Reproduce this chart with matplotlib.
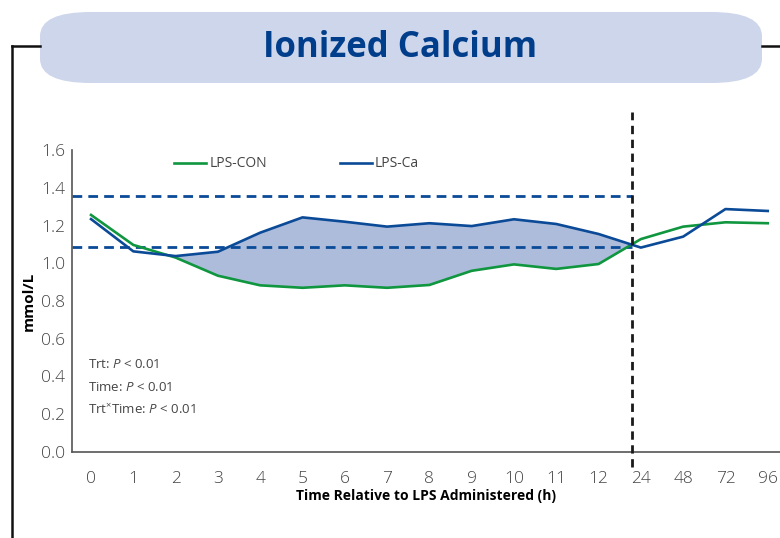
import matplotlib
matplotlib.use("Agg")
import matplotlib.pyplot as plt
from matplotlib.patches import FancyBboxPatch
from matplotlib.lines import Line2D
import numpy as np

# Data
time_labels = ['0', '1', '2', '3', '4', '5', '6', '7', '8', '9', '10', '11', '12', '24', '48', '72', '96']
lps_con = [1.256, 1.097, 1.030, 0.934, 0.883, 0.870, 0.883, 0.870, 0.885, 0.960, 0.994, 0.970, 0.996, 1.128, 1.194, 1.217, 1.212]
lps_ca = [1.234, 1.063, 1.038, 1.061, 1.162, 1.243, 1.220, 1.194, 1.212, 1.197, 1.233, 1.208, 1.155, 1.083, 1.141, 1.287, 1.277]
ref_high = 1.358
ref_low = 1.088
y_ticks = [0.0, 0.2, 0.4, 0.6, 0.8, 1.0, 1.2, 1.4, 1.6]

green = '#0f963f'
blue = '#0b4a97'
fill_col = '#aebcdc'
gray = '#444444'

plt.rcParams['font.family'] = ['Open Sans', 'DejaVu Sans']
plt.rcParams['mathtext.fontset'] = 'custom'
plt.rcParams['mathtext.rm'] = 'Open Sans'
plt.rcParams['mathtext.it'] = 'Open Sans:italic'

fig = plt.figure(figsize=(7.8, 5.38), dpi=100)
ax = fig.add_axes([72/780, 86/538, 1 - 72/780, (452 - 150)/538])

x = np.arange(len(time_labels))
con = np.array(lps_con)
ca = np.array(lps_ca)

# crossing point after 12 h (used for the dashed divider)
i = 12
cross = i + (ca[i] - con[i]) / ((ca[i] - con[i]) - (ca[i+1] - con[i+1]))

ax.fill_between(x, con, ca, where=(ca >= con) & (x <= 13), interpolate=True,
                color=fill_col, lw=0, zorder=1)
ax.plot([-0.45, cross], [ref_high, ref_high], ls=(0, (3.5, 2.2)), color=blue, lw=2.0, zorder=2)
ax.plot([-0.45, cross], [ref_low, ref_low], ls=(0, (3.5, 2.2)), color=blue, lw=2.0, zorder=2)
ax.plot(x, con, color=green, lw=1.9, zorder=3, label='LPS-CON')
ax.plot(x, ca, color=blue, lw=1.9, zorder=4, label='LPS-Ca')
ax.plot([cross, cross], [-0.08, 1.80], ls=(0, (3, 2)), color='#1a1a1a', lw=2.0, clip_on=False, zorder=5)

ax.set_xlim(-0.45, 16.29)
ax.set_ylim(0, 1.6)
ax.set_xticks(x)
ax.set_xticklabels(time_labels)
ax.set_yticks(y_ticks)
ax.set_yticklabels([f'{v:.1f}' for v in y_ticks])
ax.tick_params(axis='both', length=0, labelsize=12.5, labelcolor=gray)
ax.tick_params(axis='x', pad=14)
ax.tick_params(axis='y', pad=5)
for lab in ax.get_xticklabels() + ax.get_yticklabels():
    lab.set_fontweight('light')
for s in ['top', 'right']:
    ax.spines[s].set_visible(False)
for s in ['left', 'bottom']:
    ax.spines[s].set_color('#555555')
    ax.spines[s].set_linewidth(1.2)

ax.set_ylabel('mmol/L', fontsize=11, fontweight='bold', color='black', labelpad=4)
ax.set_xlabel('Time Relative to LPS Administered (h)', fontsize=10, fontweight='bold', color='black', labelpad=1)

ax.legend(loc='upper left', bbox_to_anchor=(0.127, 1.02), ncol=2, frameon=False,
          fontsize=10, handlelength=2.3, handletextpad=0.2, columnspacing=5.3,
          labelcolor=gray)

notes = [r'Trt: $\it{P}$ < 0.01', r'Time: $\it{P}$ < 0.01', r'Trt$^{\times}$Time: $\it{P}$ < 0.01']
for k, t in enumerate(notes):
    ax.text(0.022, 0.29 - k * 0.075, t, transform=ax.transAxes, fontsize=9.5, color=gray,
            ha='left', va='center')

# title banner
banner = FancyBboxPatch((40/780, 1 - 83/538), (762 - 40)/780, 71/538,
                        boxstyle='round,pad=0,rounding_size=0.065', transform=fig.transFigure,
                        facecolor='#cdd6ea', edgecolor='none', mutation_aspect=538/780)
fig.patches.append(banner)
fig.text(400/780, 1 - 48/538, 'Ionized Calcium', ha='center', va='center', fontsize=25,
         fontweight='bold', color='#003e8c',
         family=['Liberation Sans Narrow', 'Open Sans', 'DejaVu Sans'])

# frame lines
fig.add_artist(Line2D([12/780, 12/780], [0, 1 - 46/538], color='#111111', lw=1.8))
fig.add_artist(Line2D([12/780, 40/780], [1 - 46/538, 1 - 46/538], color='#111111', lw=1.8))
fig.add_artist(Line2D([762/780, 1], [1 - 46/538, 1 - 46/538], color='#111111', lw=1.8))

plt.savefig('out.png', dpi=100)
